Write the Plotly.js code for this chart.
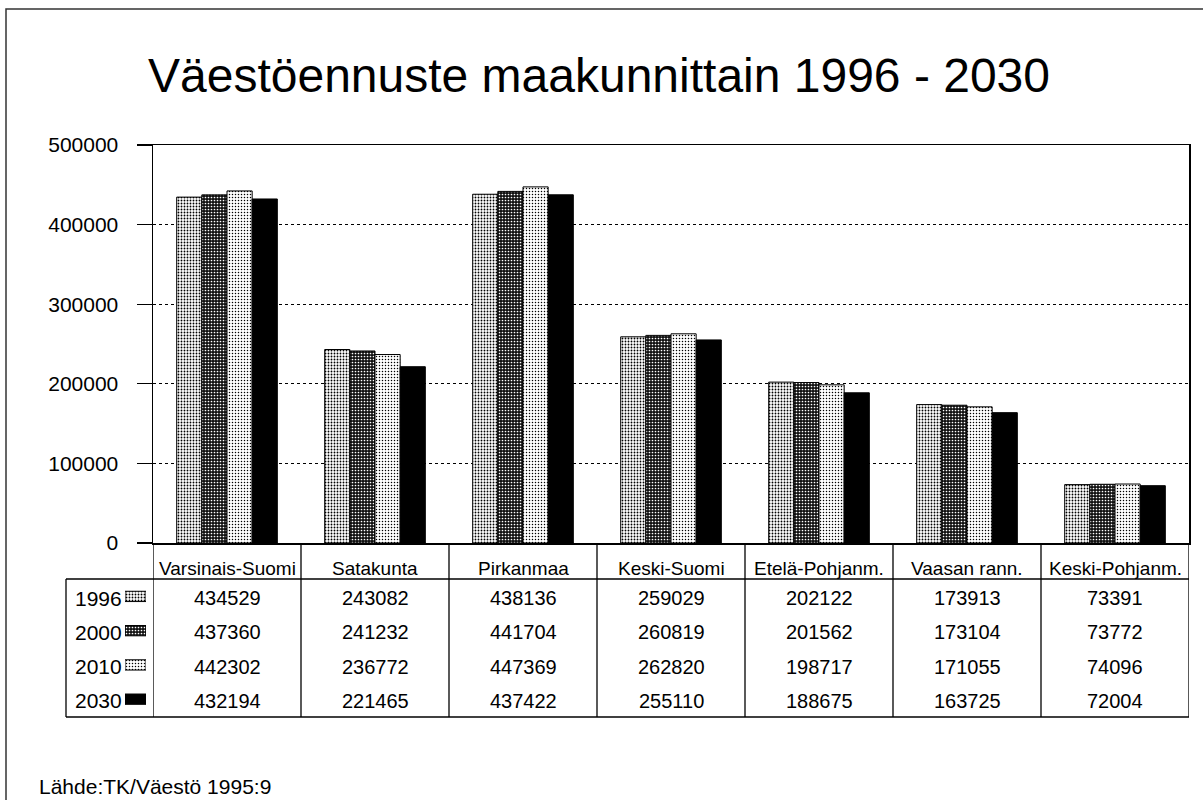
<!DOCTYPE html>
<html>
<head>
<meta charset="utf-8">
<script src="https://cdn.plot.ly/plotly-3.0.1.min.js"></script>
<style>
  html, body { margin: 0; padding: 0; background: #fff; }
  #chart { width: 1203px; height: 800px; }
</style>
</head>
<body>
<div id="chart"></div>
<script>
// ---- data ----
const categories = ["Varsinais-Suomi", "Satakunta", "Pirkanmaa", "Keski-Suomi", "Etelä-Pohjanm.", "Vaasan rann.", "Keski-Pohjanm."];
const years = ["1996", "2000", "2010", "2030"];
const v1996 = [434529, 243082, 438136, 259029, 202122, 173913, 73391];
const v2000 = [437360, 241232, 441704, 260819, 201562, 173104, 73772];
const v2010 = [442302, 236772, 447369, 262820, 198717, 171055, 74096];
const v2030 = [432194, 221465, 437422, 255110, 188675, 163725, 72004];
const yTickVals = [0, 100000, 200000, 300000, 400000, 500000];
const titleText = "Väestöennuste maakunnittain 1996 - 2030";
const sourceText = "Lähde:TK/Väestö 1995:9";

// ---- styles ----
const series = [v1996, v2000, v2010, v2030];
const patterns = [
  {shape: ".", bgcolor: "#ffffff", fgcolor: "#000000", size: 3, solidity: 0.3},
  {shape: ".", bgcolor: "#111111", fgcolor: "#ffffff", size: 3, solidity: 0.25},
  {shape: ".", bgcolor: "#ffffff", fgcolor: "#000000", size: 3, solidity: 0.2},
  {shape: "",  bgcolor: "#000000", fgcolor: "#000000", size: 3, solidity: 0.3}
];
const fills = ["#ffffff", "#111111", "#ffffff", "#000000"];

const W = 1203, H = 800;
const M = {l: 4, r: 14, t: 145, b: 0};
const px = p => (p - M.l) / (W - M.l - M.r);          // pixel x -> paper x
const py = p => (H - M.b - p) / (H - M.t - M.b);      // pixel y -> paper y

const FONT = "Liberation Sans, Arial, Helvetica, sans-serif";
const rowTop = 581, rowH = 34.25;
const rowCenter = s => rowTop + rowH * (s + 0.5);

const traces = series.map((vals, s) => ({
  type: "bar",
  name: years[s],
  x: categories,
  y: vals,
  marker: {
    color: fills[s],
    line: {color: "#000", width: 1},
    pattern: patterns[s]
  },
  showlegend: false,
  hoverinfo: "x+y+name"
}));

// legend swatches in the table (own axes), one trace per series
years.forEach((yr, s) => {
  traces.push({
    type: "bar",
    orientation: "h",
    x: [1],
    y: [s],
    base: 0,
    xaxis: "x2",
    yaxis: "y2",
    width: 0.3,
    offset: -0.2,
    marker: {
      color: fills[s],
      line: {color: "#000", width: 1},
      pattern: patterns[s]
    },
    showlegend: false,
    hoverinfo: "skip"
  });
});

const annotations = [];
annotations.push({
  text: titleText, xref: "paper", yref: "paper",
  x: px(599), y: py(76), xanchor: "center", yanchor: "middle",
  showarrow: false, font: {family: FONT, size: 48, color: "#000"}
});
categories.forEach((c, i) => {
  annotations.push({
    text: c, xref: "x", yref: "paper", x: i, y: py(568),
    xanchor: "center", yanchor: "middle", showarrow: false,
    font: {family: FONT, size: 19, color: "#000"}
  });
});
series.forEach((vals, s) => {
  annotations.push({
    text: years[s], xref: "paper", yref: "paper", x: px(124), y: py(rowCenter(s)),
    xanchor: "right", yanchor: "middle", showarrow: false,
    font: {family: FONT, size: 21, color: "#000"}
  });
  vals.forEach((v, i) => {
    annotations.push({
      text: String(v), xref: "x", yref: "paper", x: i, y: py(rowCenter(s)),
      xanchor: "center", yanchor: "middle", showarrow: false,
      font: {family: FONT, size: 20, color: "#000"}
    });
  });
});
annotations.push({
  text: sourceText, xref: "paper", yref: "paper", x: px(37), y: py(786),
  xanchor: "left", yanchor: "middle", showarrow: false,
  font: {family: FONT, size: 21, color: "#000"}
});

const lineStyle = {color: "#000", width: 1.3};
const shapes = [];
// vertical column lines in the table
for (let i = 0; i <= categories.length; i++) {
  shapes.push({type: "line", xref: "x", yref: "paper", x0: i - 0.5, x1: i - 0.5,
    y0: py(543), y1: py(717), line: lineStyle});
}
// horizontal table lines
shapes.push({type: "line", xref: "paper", yref: "paper", x0: px(66), x1: 1, y0: py(579), y1: py(579), line: lineStyle});
shapes.push({type: "line", xref: "paper", yref: "paper", x0: px(66), x1: 1, y0: py(717), y1: py(717), line: lineStyle});
shapes.push({type: "line", xref: "paper", yref: "paper", x0: px(66), x1: px(66), y0: py(579), y1: py(717), line: lineStyle});
// outer frame
shapes.push({type: "rect", xref: "paper", yref: "paper", x0: px(6), x1: px(1215), y0: py(815), y1: py(9),
  line: {color: "#333", width: 1.5}, fillcolor: "rgba(0,0,0,0)"});

const layout = {
  width: W, height: H,
  margin: M,
  paper_bgcolor: "#fff", plot_bgcolor: "#fff",
  barmode: "group", bargap: 0.32, bargroupgap: 0,
  showlegend: false,
  font: {family: FONT, color: "#000"},
  xaxis: {
    domain: [px(153), 1], type: "category", range: [-0.5, categories.length - 0.5],
    showticklabels: false, ticks: "", showgrid: false, zeroline: false,
    showline: true, linecolor: "#000", linewidth: 1.5, mirror: true, fixedrange: true
  },
  yaxis: {
    domain: [py(543), 1], range: [0, 500000], tickvals: yTickVals, tickformat: "d",
    ticks: "outside", ticklen: 15, tickcolor: "#000", tickwidth: 1.3,
    ticklabelstandoff: 14,
    tickfont: {family: FONT, size: 21, color: "#000"},
    showgrid: true, gridcolor: "#000", griddash: "dot", gridwidth: 1,
    zeroline: false, showline: true, linecolor: "#000", linewidth: 1.5, mirror: true, fixedrange: true
  },
  xaxis2: {domain: [px(125), px(146)], range: [0, 1], anchor: "y2", visible: false, fixedrange: true},
  yaxis2: {domain: [py(rowTop + rowH * 4), py(rowTop)], range: [3.5, -0.5], anchor: "x2", visible: false, fixedrange: true},
  annotations: annotations,
  shapes: shapes
};

Plotly.newPlot("chart", traces, layout, {displayModeBar: false, staticPlot: true});
</script>
</body>
</html>
